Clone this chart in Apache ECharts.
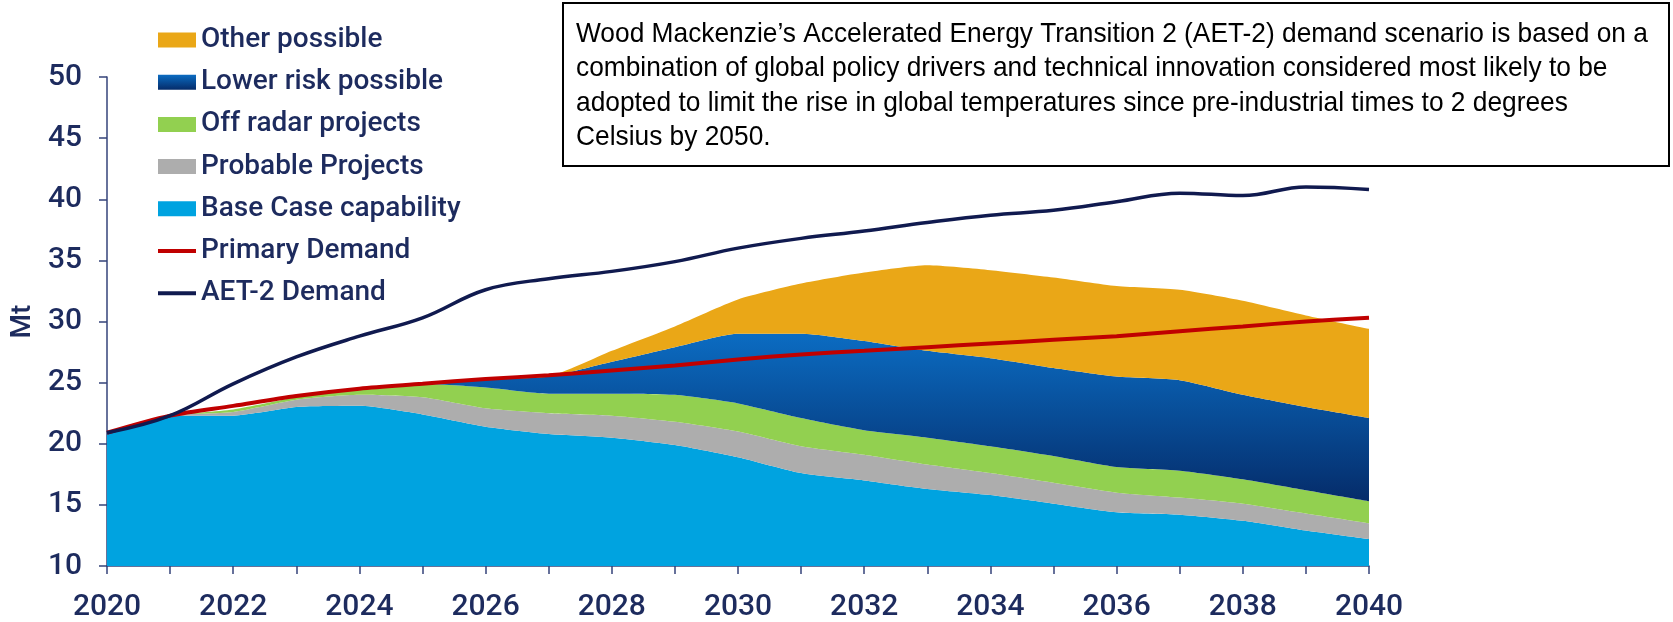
<!DOCTYPE html>
<html><head><meta charset="utf-8">
<script src="https://cdn.jsdelivr.net/npm/echarts@6/dist/echarts.min.js"></script>
<style>html,body{margin:0;padding:0;background:#fff}#c{width:1673px;height:622px}</style>
</head><body><div id="c"></div>
<script>
// ---- data (Mt) ----
const years = ['2020','2021','2022','2023','2024','2025','2026','2027','2028','2029','2030',
               '2031','2032','2033','2034','2035','2036','2037','2038','2039','2040'];
// top edges of each stacked layer (null = layer not present)
const baseCaseTop   = [20.9,22.3,22.3,23.0,23.1,22.4,21.4,20.8,20.5,19.9,18.9,17.6,17.0,16.3,15.8,15.1,14.4,14.2,13.7,12.9,12.2];
const probableTop   = [20.9,22.3,22.6,23.6,24.0,23.8,22.9,22.5,22.3,21.8,21.0,19.8,19.1,18.3,17.6,16.8,16.0,15.6,15.1,14.3,13.5];
const offRadarTop   = [20.9,22.3,22.8,23.8,24.5,24.9,24.6,24.1,24.1,24.0,23.3,22.1,21.1,20.5,19.8,19.0,18.1,17.8,17.1,16.2,15.3];
const lowerRiskTop  = [null,null,null,null,null,24.9,25.3,25.5,26.7,27.9,29.0,29.0,28.4,27.6,27.0,26.2,25.5,25.2,24.0,23.0,22.1];
const otherTop      = [null,null,null,null,null,null,null,25.5,27.6,29.6,31.8,33.1,34.0,34.6,34.2,33.6,32.9,32.6,31.7,30.5,29.4];
const primaryDemand = [20.9,22.3,23.1,23.9,24.5,24.9,25.3,25.6,26.0,26.4,26.9,27.3,27.6,27.9,28.2,28.5,28.8,29.2,29.6,30.0,30.3];
const aet2Demand    = [20.9,22.3,24.9,27.1,28.8,30.3,32.6,33.5,34.1,34.9,36.0,36.8,37.4,38.1,38.7,39.1,39.8,40.5,40.3,41.0,40.8];
const yTicks = {min:10, max:50, step:5};
const noteLines = [
  'Wood Mackenzie\u2019s Accelerated Energy Transition 2 (AET-2) demand scenario is based on a',
  'combination of global policy drivers and technical innovation considered most likely to be',
  'adopted to limit the rise in global temperatures since pre-industrial times to 2 degrees',
  'Celsius by 2050.'
];

// ---- build stacked thicknesses ----
const r1 = v => Math.round(v*100)/100;
const baseT = baseCaseTop.slice();
const probT = probableTop.map((t,i)=>r1(t-baseCaseTop[i]));
const offT  = offRadarTop.map((t,i)=>r1(t-probableTop[i]));
const lowT  = lowerRiskTop.map((t,i)=> t==null?0:r1(t-offRadarTop[i]));
const othT  = otherTop.map((t,i)=>{const below = lowerRiskTop[i]==null?offRadarTop[i]:lowerRiskTop[i]; return t==null?0:r1(t-below);});

const ink = '#1d2b5e';
const axisCol = '#34437a';
const lowGrad = new echarts.graphic.LinearGradient(0,0,0,1,[{offset:0,color:'#0b6cc2'},{offset:1,color:'#052c6a'}]);

function areaSeries(name, data, color){
  return {name, type:'line', stack:'supply', data, smooth:0.2, symbol:'none', showSymbol:false,
    lineStyle:{width:0}, itemStyle:{color}, areaStyle:{color, opacity:1}, z:2, silent:true};
}

const chart = echarts.init(document.getElementById('c'), null, {renderer:'canvas'});
chart.setOption({
  animation:false,
  backgroundColor:'#fff',
  grid:{left:107, right:304, top:77, bottom:51, containLabel:false},
  legend:{
    orient:'vertical', left:151, top:21, itemWidth:38, itemHeight:15, itemGap:14.2,
    textStyle:{color:ink, fontFamily:'Roboto', fontWeight:500, fontSize:28, lineHeight:28},
    data:[
      {name:'Other possible', icon:'rect'},
      {name:'Lower risk possible', icon:'rect'},
      {name:'Off radar projects', icon:'rect'},
      {name:'Probable Projects', icon:'rect'},
      {name:'Base Case capability', icon:'rect'},
      {name:'Primary Demand', itemStyle:{opacity:0, borderWidth:0}, lineStyle:{width:4}},
      {name:'AET-2 Demand', itemStyle:{opacity:0, borderWidth:0}, lineStyle:{width:4}}
    ],
    selectedMode:false
  },
  xAxis:{
    type:'category', data:years, boundaryGap:false,
    axisLine:{show:true, lineStyle:{color:axisCol, width:1.5}},
    axisTick:{show:true, interval:0, length:8, lineStyle:{color:axisCol, width:1.5}},
    axisLabel:{interval:1, color:ink, fontFamily:'Roboto', fontWeight:500, fontSize:30, margin:26},
    splitLine:{show:false}
  },
  yAxis:{
    type:'value', min:yTicks.min, max:yTicks.max, interval:yTicks.step,
    name:'Mt', nameLocation:'middle', nameGap:67, nameRotate:90,
    nameTextStyle:{color:ink, fontFamily:'Roboto', fontWeight:500, fontSize:28},
    axisLine:{show:true, lineStyle:{color:axisCol, width:1.5}},
    axisTick:{show:true, length:8, lineStyle:{color:axisCol, width:1.5}},
    axisLabel:{color:ink, fontFamily:'Roboto', fontWeight:500, fontSize:30, margin:25},
    splitLine:{show:false}
  },
  series:[
    areaSeries('Base Case capability', baseT, '#00a3e0'),
    areaSeries('Probable Projects', probT, '#adadad'),
    areaSeries('Off radar projects', offT, '#92d050'),
    areaSeries('Lower risk possible', lowT, lowGrad),
    areaSeries('Other possible', othT, '#eaa717'),
    {name:'Primary Demand', type:'line', data:primaryDemand, smooth:0.3, symbol:'none', showSymbol:false,
      lineStyle:{color:'#c00000', width:4}, itemStyle:{color:'#c00000'}, z:5},
    {name:'AET-2 Demand', type:'line', data:aet2Demand, smooth:0.4, symbol:'none', showSymbol:false,
      lineStyle:{color:'#101a4f', width:3.5}, itemStyle:{color:'#101a4f'}, z:6}
  ],
  graphic:[
    {type:'rect', left:562, top:2, z:10, shape:{width:1106, height:163},
      style:{fill:'#fff', stroke:'#000', lineWidth:2}},
    {type:'text', x:576, y:17, scaleX:0.94, z:20,
      style:{text:noteLines.join('\n'), fill:'#000',
        fontFamily:'Liberation Sans', fontSize:28, lineHeight:34.5}}
  ]
});
</script></body></html>
